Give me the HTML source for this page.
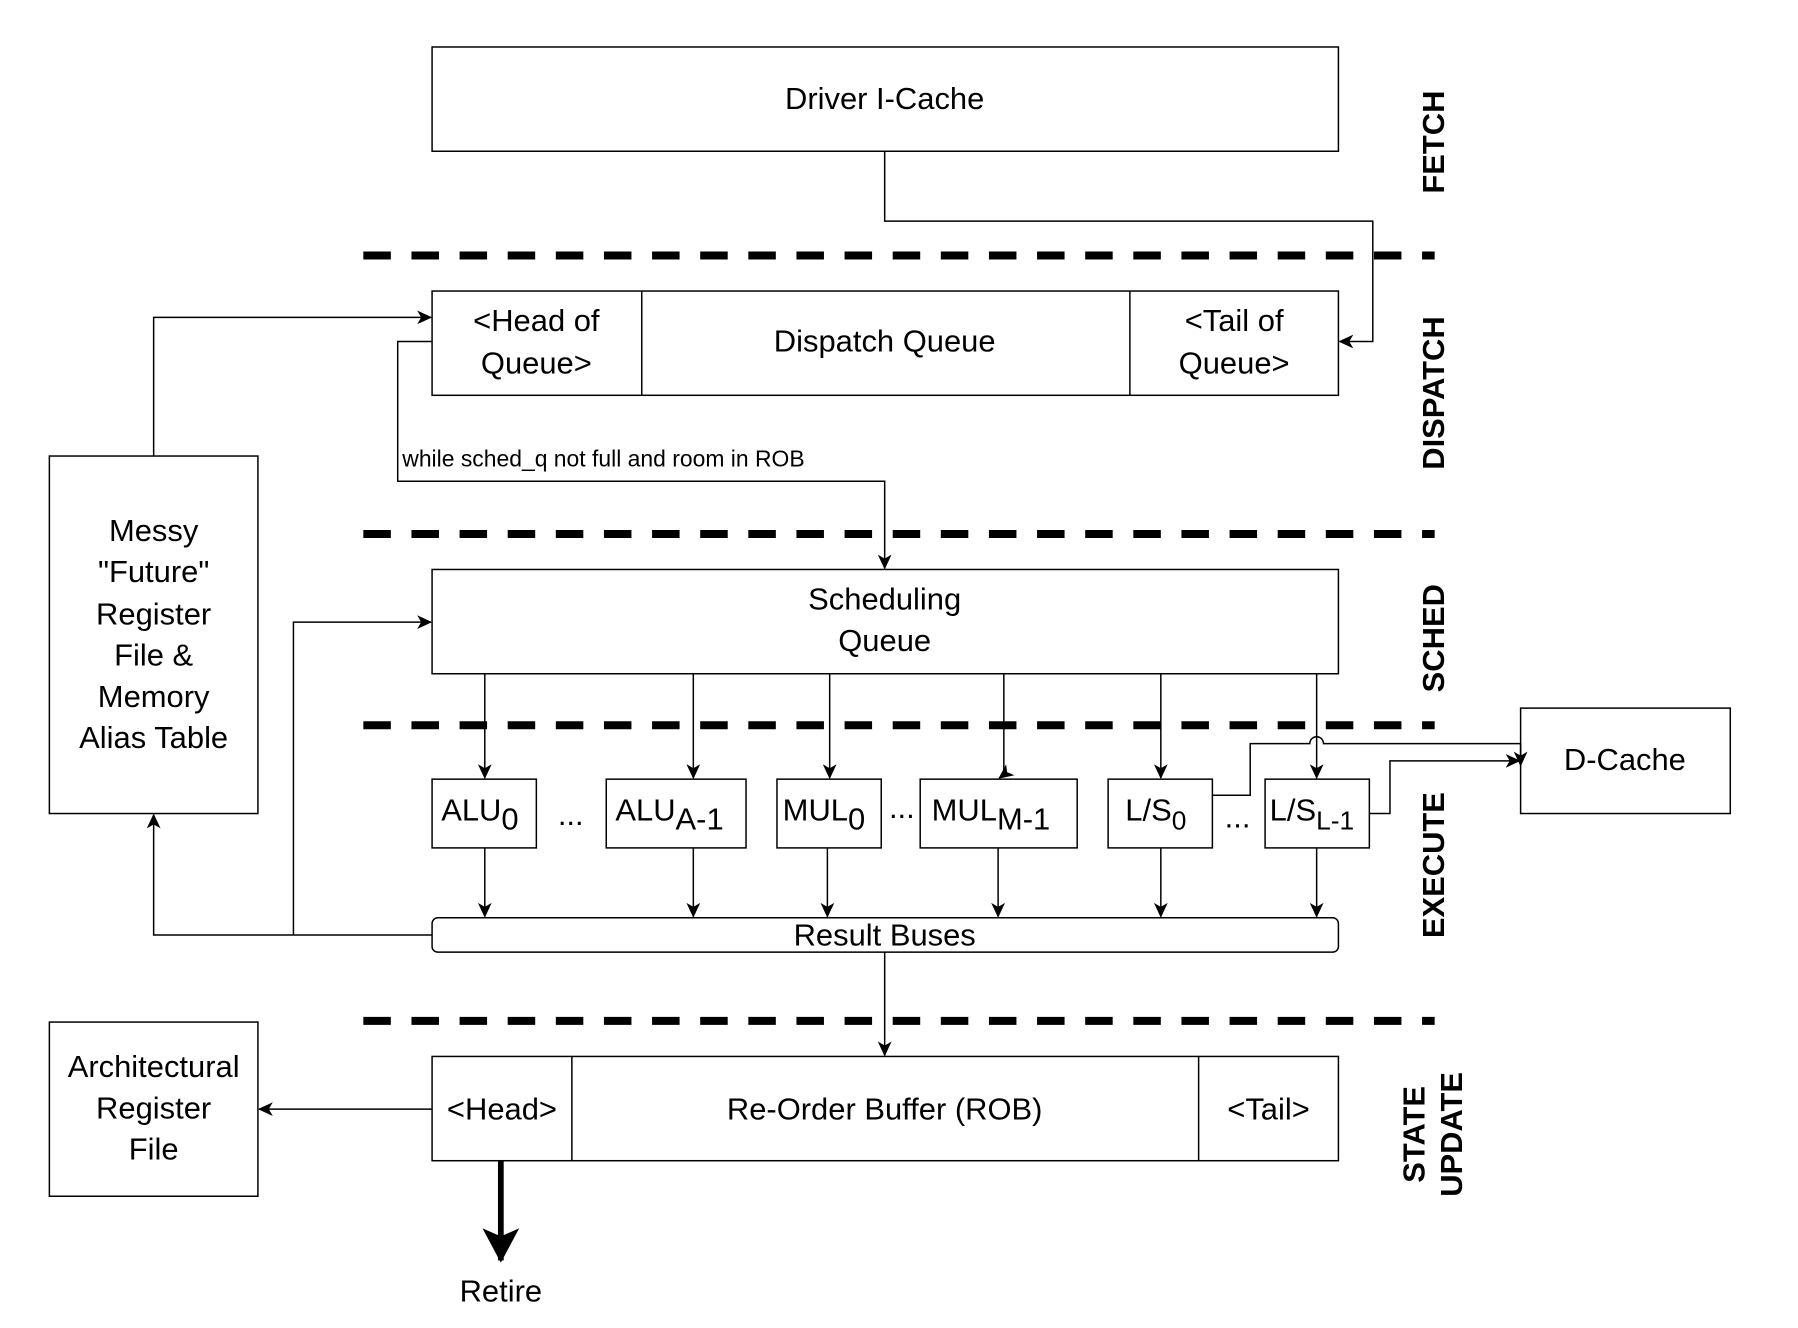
<!DOCTYPE html>
<html><head><meta charset="utf-8"><style>
html,body{margin:0;padding:0;background:#fff;}
svg{display:block;}
text{font-family:"Liberation Sans",Arial,Helvetica,sans-serif;fill:#000;}
</style></head><body>
<svg width="1798" height="1328" viewBox="0 0 1569 1159" xmlns="http://www.w3.org/2000/svg">
<defs>
<marker id="a" markerWidth="14" markerHeight="14" refX="12" refY="7" orient="auto" markerUnits="userSpaceOnUse">
<path d="M0,1 L13,7 L0,13 L3.5,7 Z" fill="#000"/>
</marker>
<marker id="b" markerWidth="30" markerHeight="40" refX="28" refY="16" orient="auto" markerUnits="userSpaceOnUse">
<path d="M0,0 L30,16 L0,32 L7,16 Z" fill="#000"/>
</marker>
</defs>
<g fill="none" stroke="#000" stroke-width="7" stroke-dasharray="24,18">
<line x1="317" y1="223" x2="1252" y2="223"/>
<line x1="317" y1="466" x2="1252" y2="466"/>
<line x1="317" y1="633" x2="1252" y2="633"/>
<line x1="317" y1="891" x2="1252" y2="891"/>
</g>
<g fill="#fff" stroke="#000" stroke-width="1.3">
<rect x="377" y="41" width="791" height="91"/>
<rect x="377" y="254" width="791" height="91"/>
<rect x="43" y="398" width="182" height="312"/>
<rect x="377" y="497" width="791" height="91"/>
<rect x="377" y="680" width="91" height="60"/>
<rect x="529" y="680" width="122" height="60"/>
<rect x="678" y="680" width="91" height="60"/>
<rect x="803" y="680" width="137" height="60"/>
<rect x="967" y="680" width="91" height="60"/>
<rect x="1104" y="680" width="91" height="60"/>
<rect x="1327" y="618" width="183" height="92"/>
<rect x="377" y="801" width="791" height="30" rx="5"/>
<rect x="377" y="922" width="791" height="91"/>
<rect x="43" y="892" width="182" height="152"/>
</g>
<g fill="none" stroke="#000" stroke-width="1.3">
<line x1="560" y1="254" x2="560" y2="345"/>
<line x1="986" y1="254" x2="986" y2="345"/>
<line x1="499" y1="922" x2="499" y2="1013"/>
<line x1="1046" y1="922" x2="1046" y2="1013"/>
<path d="M772,132 V193 H1198 V298 H1169" marker-end="url(#a)"/>
<path d="M134,398 V277 H376" marker-end="url(#a)"/>
<path d="M377,298 H347 V420 H772 V496" marker-end="url(#a)"/>
<path d="M423,588 V679" marker-end="url(#a)"/>
<path d="M605,588 V679" marker-end="url(#a)"/>
<path d="M724,588 V679" marker-end="url(#a)"/>
<path d="M876,588 V676 L872,679" marker-end="url(#a)"/>
<path d="M1013,588 V679" marker-end="url(#a)"/>
<path d="M1149,588 V679" marker-end="url(#a)"/>
<path d="M423,740 V800" marker-end="url(#a)"/>
<path d="M605,740 V800" marker-end="url(#a)"/>
<path d="M722,740 V800" marker-end="url(#a)"/>
<path d="M871,740 V800" marker-end="url(#a)"/>
<path d="M1013,740 V800" marker-end="url(#a)"/>
<path d="M1149,740 V800" marker-end="url(#a)"/>
<path d="M377,816 H134 V711" marker-end="url(#a)"/>
<path d="M256,816 V543 H376" marker-end="url(#a)"/>
<path d="M772,831 V921" marker-end="url(#a)"/>
<path d="M377,968 H226" marker-end="url(#a)"/>
<path d="M1058,694 H1091 V649 H1143 A6,6 0 0 1 1155,649 H1327 V668" marker-end="url(#a)"/>
<path d="M1195,710 H1213 V664 H1326" marker-end="url(#a)"/>
</g>
<path d="M437,1013 V1100" stroke="#000" stroke-width="5" fill="none" marker-end="url(#b)"/>
<g font-size="27" text-anchor="middle">
<text x="772" y="95">Driver I-Cache</text>
<text x="468" y="289">&lt;Head of</text>
<text x="468" y="326">Queue&gt;</text>
<text x="772" y="307">Dispatch Queue</text>
<text x="1077" y="289">&lt;Tail of</text>
<text x="1077" y="326">Queue&gt;</text>
<text x="134" y="472">Messy</text>
<text x="134" y="508">"Future"</text>
<text x="134" y="545">Register</text>
<text x="134" y="581">File &amp;</text>
<text x="134" y="617">Memory</text>
<text x="134" y="653">Alias Table</text>
<text x="772" y="532">Scheduling</text>
<text x="772" y="568">Queue</text>
<text x="772" y="825">Result Buses</text>
<text x="438" y="977">&lt;Head&gt;</text>
<text x="772" y="977">Re-Order Buffer (ROB)</text>
<text x="1107" y="977">&lt;Tail&gt;</text>
<text x="134" y="940">Architectural</text>
<text x="134" y="976">Register</text>
<text x="134" y="1012">File</text>
<text x="437" y="1136">Retire</text>
<text x="1418" y="672">D-Cache</text>
<text x="498" y="720">...</text>
<text x="787" y="714">...</text>
<text x="1080" y="722">...</text>
</g>
<g font-size="27">
<text x="385" y="716">ALU<tspan dy="8">0</tspan></text>
<text x="537" y="716">ALU<tspan dy="8">A-1</tspan></text>
<text x="683" y="716">MUL<tspan dy="8">0</tspan></text>
<text x="813" y="716">MUL<tspan dy="8">M-1</tspan></text>
<text x="982" y="716">L/S<tspan font-size="23" dy="8">0</tspan></text>
<text x="1108" y="716">L/S<tspan font-size="23" dy="8">L-1</tspan></text>
</g>
<text x="351" y="407" font-size="20">while sched_q not full and room in ROB</text>
<g font-size="27" font-weight="bold" text-anchor="middle">
<text transform="translate(1260,124) rotate(-90)">FETCH</text>
<text transform="translate(1260,343) rotate(-90)">DISPATCH</text>
<text transform="translate(1260,557) rotate(-90)">SCHED</text>
<text transform="translate(1260,755) rotate(-90)">EXECUTE</text>
<text transform="translate(1243,990) rotate(-90)">STATE</text>
<text transform="translate(1276,990) rotate(-90)">UPDATE</text>
</g>
</svg>
</body></html>
